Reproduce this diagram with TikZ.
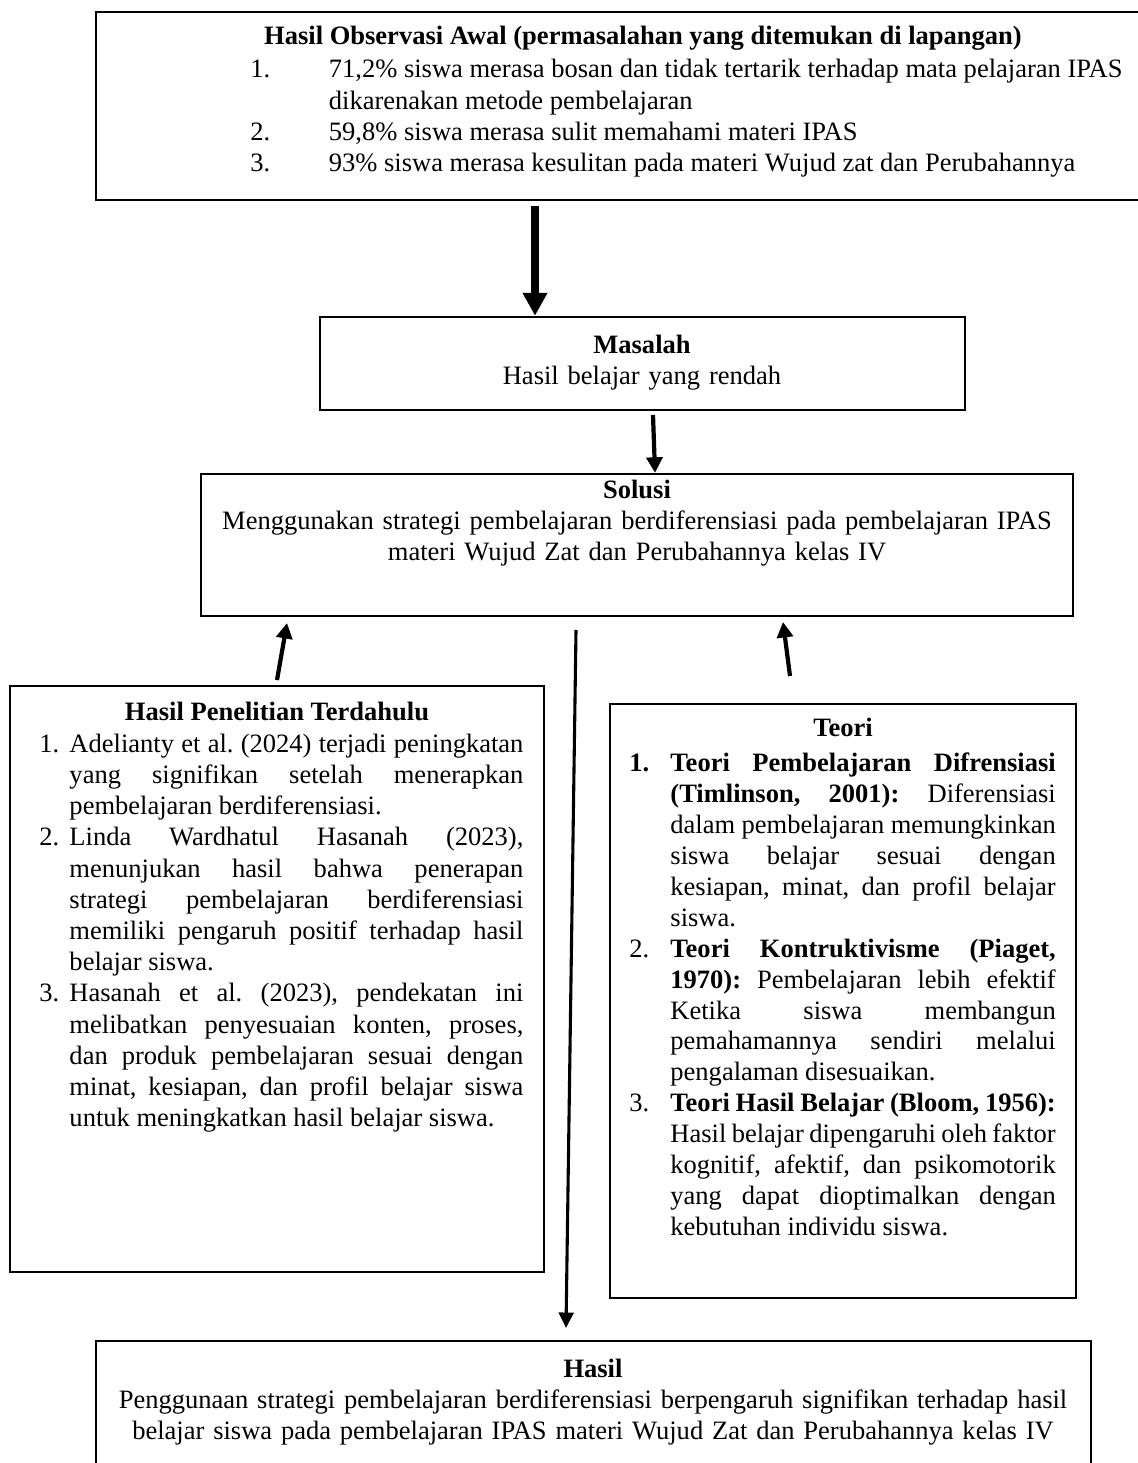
\documentclass[tikz,border=0pt]{standalone}
\usepackage{fontspec}
\setmainfont{Liberation Serif}
\usetikzlibrary{arrows.meta,fit}
\frenchspacing
\newcommand{\itm}[2]{\hangindent=#1\hangafter=1\noindent\makebox[#1][l]{#2}}
\newcommand{\justlist}[2]{\parbox[t]{#1}{\tolerance=10000\hbadness=10000\hyphenpenalty=10000\exhyphenpenalty=10000#2\par}}
\tikzset{
  box/.style={draw,line width=1.1pt,inner sep=0pt},
  txt/.style={inner sep=0pt,anchor=base,font={\fontsize{12}{14.05}\selectfont}},
  lst/.style={inner sep=0pt,anchor=base west,font={\fontsize{12}{#1}\selectfont}},
  bigarr/.style={line width=3.4pt,-{Triangle[width=10.6pt,length=10.4pt]}},
  arr/.style={line width=1.9pt,-{Triangle[width=7.2pt,length=7pt]}},
  longarr/.style={line width=1.4pt,-{Triangle[width=6.6pt,length=7pt]}}
}
\begin{document}
\begin{tikzpicture}[x=0.4525pt,y=-0.4525pt]
   \useasboundingbox (0,0) rectangle (1137,1463);
   \node [box,fit={(96,12) (1180,200)}] (obs) {};
   \node [box,fit={(320,317) (965,410)}] (masalah) {};
   \node [box,fit={(201,474) (1073,616)}] (solusi) {};
   \node [box,fit={(10,686) (544,1272)}] (penelitian) {};
   \node [box,fit={(610,704) (1076,1298)}] (teori) {};
   \node [box,fit={(96,1341) (1091,1490)}] (hasil) {};

   \node [txt] (obstitle) at (643,45) {\textbf{Hasil Observasi Awal (permasalahan yang ditemukan di lapangan)}};
   \node [lst=14.05pt] (obslist) at (250,78) {\parbox[t]{420pt}{\raggedright
     \itm{35.5pt}{1.}71,2\% siswa merasa bosan dan tidak tertarik terhadap mata pelajaran IPAS\newline dikarenakan metode pembelajaran\par
     \itm{35.5pt}{2.}59,8\% siswa merasa sulit memahami materi IPAS\par
     \itm{35.5pt}{3.}93\% siswa merasa kesulitan pada materi Wujud zat dan Perubahannya\par}};

   \node [txt,text width=300pt,align=center] (masalahtxt) at (642,353) {\textbf{Masalah}\\Hasil belajar yang rendah};
   \node [txt,text width=400pt,align=center] (solusitxt) at (637,498) {\textbf{Solusi}\\Menggunakan strategi pembelajaran berdiferensiasi pada pembelajaran IPAS\\materi Wujud Zat dan Perubahannya kelas IV};

   \node [txt] (penelitiantitle) at (277,720) {\textbf{Hasil Penelitian Terdahulu}};
   \node [lst=14.14pt] (penelitianlist) at (39,752) {\justlist{219pt}{%
     \itm{13.6pt}{1.}Adelianty et al. (2024) terjadi peningkatan\linebreak yang signifikan setelah menerapkan\linebreak pembelajaran berdiferensiasi.\par
     \itm{13.6pt}{2.}Linda Wardhatul Hasanah (2023),\linebreak menunjukan hasil bahwa penerapan\linebreak strategi pembelajaran berdiferensiasi\linebreak memiliki pengaruh positif terhadap hasil\linebreak belajar siswa.\par
     \itm{13.6pt}{3.}Hasanah et al. (2023), pendekatan ini\linebreak melibatkan penyesuaian konten, proses,\linebreak dan produk pembelajaran sesuai dengan\linebreak minat, kesiapan, dan profil belajar siswa\linebreak untuk meningkatkan hasil belajar siswa.}};

   \node [txt] (teorititle) at (843,736) {\textbf{Teori}};
   \node [lst=14pt] (teorilist) at (629,771.5) {\justlist{192.9pt}{%
     \itm{18.55pt}{\textbf{1.}}\textbf{Teori Pembelajaran Difrensiasi}\linebreak \textbf{(Timlinson, 2001):} Diferensiasi\linebreak dalam pembelajaran memungkinkan\linebreak siswa belajar sesuai dengan\linebreak kesiapan, minat, dan profil belajar\linebreak siswa.\par
     \itm{18.55pt}{2.}\textbf{Teori Kontruktivisme (Piaget,}\linebreak \textbf{1970):} Pembelajaran lebih efektif\linebreak Ketika siswa membangun\linebreak pemahamannya sendiri melalui\linebreak pengalaman disesuaikan.\par
     \itm{18.55pt}{3.}\textbf{Teori Hasil Belajar (Bloom, 1956):}\linebreak Hasil belajar dipengaruhi oleh faktor\linebreak kognitif, afektif, dan psikomotorik\linebreak yang dapat dioptimalkan dengan\linebreak kebutuhan individu siswa.}};

   \node [txt,text width=440pt,align=center] (hasiltxt) at (593,1377) {\textbf{Hasil}\\Penggunaan strategi pembelajaran berdiferensiasi berpengaruh signifikan terhadap hasil\\belajar siswa pada pembelajaran IPAS materi Wujud Zat dan Perubahannya kelas IV};

   \coordinate (a1) at (535,206);
   \coordinate (a2) at (653,415);
   \coordinate (a2x) at (655,0);
   \coordinate (l1) at (277,680);
   \coordinate (l2) at (287,623);
   \coordinate (r1) at (790,676);
   \coordinate (r2) at (783,622);
   \coordinate (c1) at (576,630);
   \coordinate (c2) at (566,1328);
   \draw [bigarr] (a1) -- (a1 |- masalah.north);
   \draw [arr] (a2) -- (solusi.north -| a2x);
   \draw [arr] (l1) -- (l2);
   \draw [arr] (r1) -- (r2);
   \draw [longarr] (c1) -- (c2);
\end{tikzpicture}
\end{document}
